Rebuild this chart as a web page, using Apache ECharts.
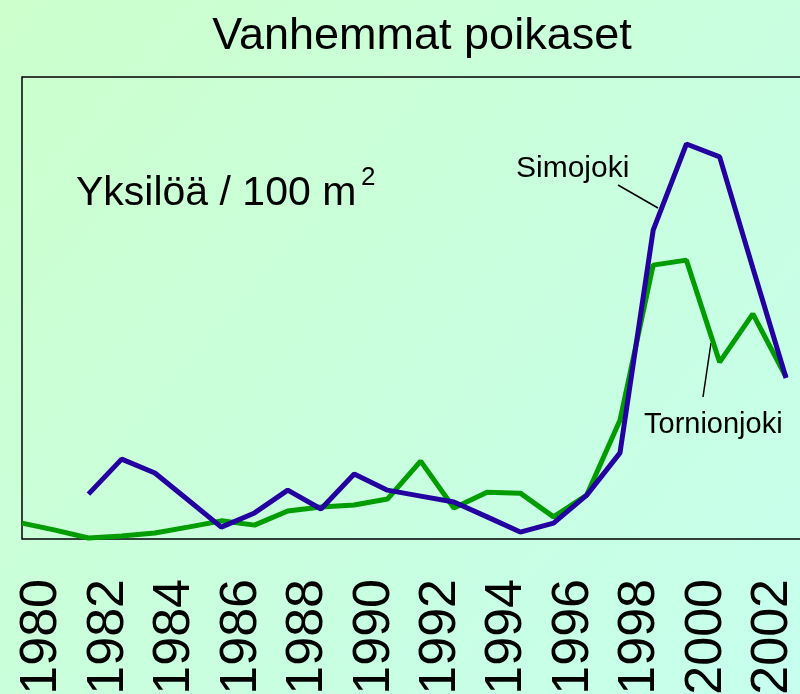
<!DOCTYPE html>
<html>
<head>
<meta charset="utf-8">
<script src="https://cdn.jsdelivr.net/npm/echarts@6/dist/echarts.min.js"></script>
<style>
html,body{margin:0;padding:0;}
#chart{width:800px;height:694px;}
</style>
</head>
<body>
<div id="chart"></div>
<script>
var years = [1980,1981,1982,1983,1984,1985,1986,1987,1988,1989,1990,1991,1992,1993,1994,1995,1996,1997,1998,1999,2000,2001,2002,2003];
var tornionjoki = [0.48,0.27,0.03,0.09,0.18,0.36,0.55,0.42,0.85,0.97,1.03,1.21,2.36,0.94,1.42,1.39,0.67,1.33,3.6,8.3,8.45,5.36,6.82,4.91];
var simojoki = [null,null,1.36,2.42,2.0,1.18,0.36,0.79,1.48,0.91,1.97,1.48,1.30,1.12,0.67,0.21,0.48,1.33,2.61,9.36,11.97,11.58,8.21,4.88];
var tickLabels = ['1980','1982','1984','1986','1988','1990','1992','1994','1996','1998','2000','2002'];
var titleText = 'Vanhemmat poikaset';
var unitText = 'Yksilöä / 100 m';
var seriesNames = ['Tornionjoki','Simojoki'];

function pairs(vals){
  var out = [];
  for (var i=0;i<years.length;i++){ if (vals[i]!==null) out.push([years[i], vals[i]]); }
  return out;
}

var font = '"Liberation Sans", Arial, sans-serif';
var chart = echarts.init(document.getElementById('chart'), null, {renderer:'canvas'});
chart.setOption({
  animation:false,
  backgroundColor:{type:'linear',x:0,y:0,x2:1,y2:1,colorStops:[{offset:0,color:'#ccffcc'},{offset:1,color:'#c6ffee'}]},
  grid:{left:22,right:-6,top:77,bottom:155,show:true,borderColor:'#000',borderWidth:1.5,backgroundColor:'transparent',containLabel:false,outerBoundsMode:'none'},
  xAxis:{
    type:'value',min:1980,max:2003.6,interval:2,
    axisLine:{show:false},axisTick:{show:false},splitLine:{show:false},
    axisLabel:{
      rotate:90,margin:40,fontSize:52,color:'#000',fontFamily:font,
      verticalAlign:'top',lineHeight:40,showMaxLabel:false,hideOverlap:false,
      formatter:function(v){ var s=String(Math.round(v)); return tickLabels.indexOf(s)>=0 ? s : ''; }
    }
  },
  yAxis:{type:'value',min:0,max:14,axisLine:{show:false},axisTick:{show:false},axisLabel:{show:false},splitLine:{show:false}},
  series:[
    {name:seriesNames[0],type:'line',data:pairs(tornionjoki),showSymbol:false,lineStyle:{color:'#009c00',width:5},z:2},
    {name:seriesNames[1],type:'line',data:pairs(simojoki),showSymbol:false,lineStyle:{color:'#2400a0',width:5},z:3}
  ],
  graphic:[
    {type:'text',x:422,y:14,style:{text:titleText,font:'45px '+font,fill:'#000',textAlign:'center',textVerticalAlign:'top'}},
    {type:'text',x:76,y:173,style:{text:unitText,font:'41px '+font,fill:'#000',textAlign:'left',textVerticalAlign:'top'}},
    {type:'text',x:361,y:165,style:{text:'2',font:'26px '+font,fill:'#000',textAlign:'left',textVerticalAlign:'top'}},
    {type:'text',x:516,y:154,style:{text:seriesNames[1],font:'30px '+font,fill:'#000',textAlign:'left',textVerticalAlign:'top'}},
    {type:'text',x:644,y:410,style:{text:seriesNames[0],font:'29px '+font,fill:'#000',textAlign:'left',textVerticalAlign:'top'}},
    {type:'line',shape:{x1:618,y1:185,x2:658,y2:208},style:{stroke:'#000',lineWidth:1.5}},
    {type:'line',shape:{x1:711,y1:343,x2:703,y2:397},style:{stroke:'#000',lineWidth:1.5}}
  ]
});
</script>
</body>
</html>
